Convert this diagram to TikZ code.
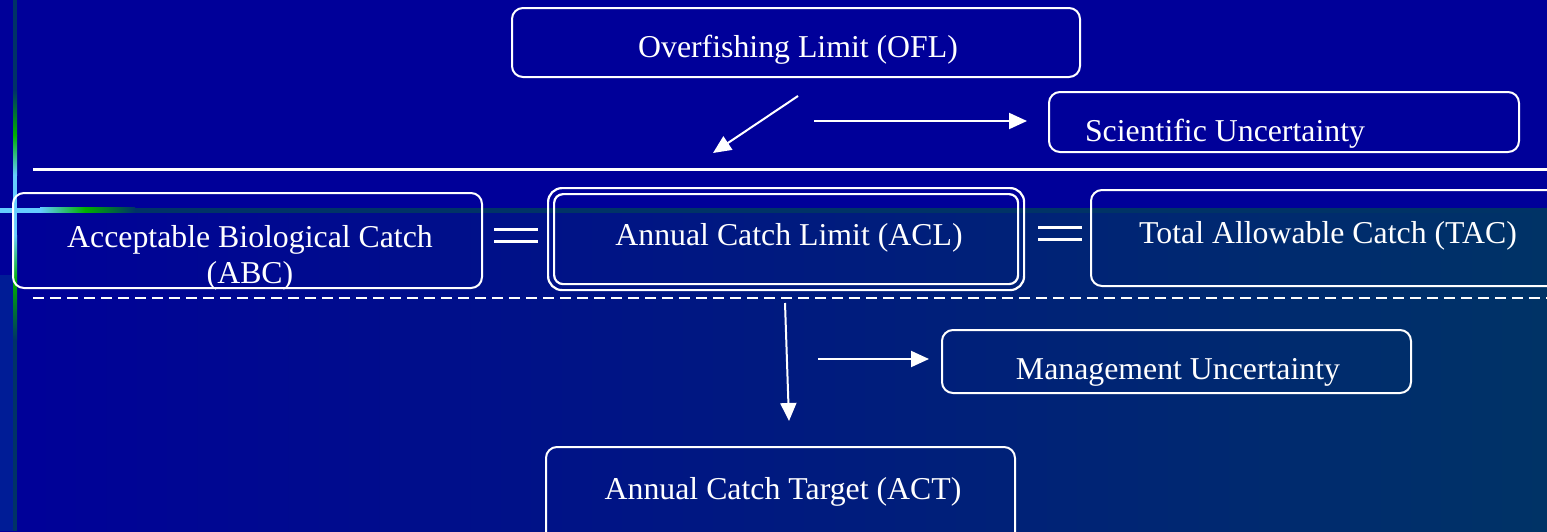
\documentclass[tikz,border=0pt]{standalone}
\usepackage{fontspec}
\setmainfont{Liberation Serif}
\usetikzlibrary{arrows.meta}
\definecolor{topbg}{RGB}{0,0,153}
\definecolor{botright}{RGB}{0,51,102}
\definecolor{deco}{RGB}{0,51,102}
\definecolor{decogreen}{RGB}{0,176,0}
\definecolor{decocyan}{RGB}{102,204,255}
\definecolor{lstrip}{RGB}{0,28,150}
\begin{document}
\begin{tikzpicture}[x=1pt,y=-1pt,
  box/.style={draw=white, line width=2pt, rounded corners=11pt, inner sep=0pt, anchor=north west},
  lbl/.style={text=white, font=\fontsize{31.8}{37}\selectfont, anchor=base, inner sep=0pt},
  arr/.style={draw=white, line width=2pt, -{Triangle[length=18pt,width=16pt]}},
  eqline/.style={draw=white, line width=3pt},
  rule/.style={draw=white, line width=3pt},
  dashrule/.style={draw=white, line width=2.5pt, dash pattern=on 11pt off 6pt}]
\useasboundingbox (0,0) rectangle (1547,531);
\clip (0,0) rectangle (1547,531);
% background
\fill[topbg] (0,0) rectangle (1547,210);
\shade[left color=topbg, right color=botright] (0,210) rectangle (1547,531);
\fill[lstrip] (0,275) rectangle (13,531);
% horizontal decoration band
\fill[decocyan] (0,207.5) rectangle (40,212.5);
\shade[left color=decocyan, right color=decogreen] (40,207.5) rectangle (85,212.5);
\shade[left color=decogreen, right color=deco] (85,207.5) rectangle (135,212.5);
\fill[deco] (135,207.5) rectangle (1547,212.5);
% vertical decoration line
\fill[deco] (13,0) rectangle (17,90);
\shade[top color=deco, bottom color=decogreen] (13,90) rectangle (17,135);
\shade[top color=decogreen, bottom color=decocyan] (13,135) rectangle (17,175);
\fill[decocyan] (13,175) rectangle (17,235);
\shade[top color=decocyan, bottom color=decogreen] (13,235) rectangle (17,281);
\shade[top color=decogreen, bottom color=deco] (13,281) rectangle (17,340);
\fill[deco] (13,340) rectangle (17,531);
% separators
\coordinate (r1a) at (33,169); \coordinate (r1b) at (1547,169);
\draw[rule] (r1a) -- (r1b);
\coordinate (r2a) at (33,298); \coordinate (r2b) at (1547,298);
\draw[dashrule] (r2a) -- (r2b);
% boxes
\node[box, minimum width=568pt, minimum height=69pt] (ofl) at (511,7) {};
\node[lbl] (ofltxt) at (798,57) {Overfishing Limit (OFL)};
\node[box, minimum width=470pt, minimum height=60pt] (su) at (1048,91) {};
\node[lbl] (sutxt) at (1225,141) {Scientific Uncertainty};
\node[box, minimum width=469pt, minimum height=95pt] (abc) at (12,192) {};
\node[lbl] (abctxt1) at (250,247) {Acceptable Biological Catch};
\node[lbl] (abctxt2) at (250,283) {(ABC)};
\node[box, line width=2.2pt, rounded corners=14pt, minimum width=476pt, minimum height=102pt] (acl) at (547,187) {};
\node[box, line width=2.2pt, rounded corners=9pt, minimum width=464pt, minimum height=90pt] (aclin) at (553,193) {};
\node[lbl] (acltxt) at (789,245) {Annual Catch Limit (ACL)};
\node[box, minimum width=480pt, minimum height=96pt] (tac) at (1090,189) {};
\node[lbl] (tactxt) at (1328,243) {Total Allowable Catch (TAC)};
\node[box, minimum width=469pt, minimum height=63pt] (mu) at (941,329) {};
\node[lbl] (mutxt) at (1178,379) {Management Uncertainty};
\node[box, minimum width=469pt, minimum height=120pt] (act) at (545,446) {};
\node[lbl] (acttxt) at (783,499) {Annual Catch Target (ACT)};
% equals signs
\coordinate (e1a) at (494,229); \coordinate (e1b) at (538,229);
\coordinate (e1c) at (494,241); \coordinate (e1d) at (538,241);
\draw[eqline] (e1a) -- (e1b); \draw[eqline] (e1c) -- (e1d);
\coordinate (e2a) at (1038,227); \coordinate (e2b) at (1082,227);
\coordinate (e2c) at (1038,239); \coordinate (e2d) at (1082,239);
\draw[eqline] (e2a) -- (e2b); \draw[eqline] (e2c) -- (e2d);
% arrows
\coordinate (a1s) at (798,96); \coordinate (a1e) at (713,153);
\draw[arr] (a1s) -- (a1e);
\coordinate (a2s) at (814,121); \coordinate (a2e) at (1027,121);
\draw[arr] (a2s) -- (a2e);
\coordinate (a3s) at (785,303); \coordinate (a3e) at (789,421);
\draw[arr] (a3s) -- (a3e);
\coordinate (a4s) at (818,359); \coordinate (a4e) at (929,359);
\draw[arr] (a4s) -- (a4e);
\end{tikzpicture}
\end{document}
